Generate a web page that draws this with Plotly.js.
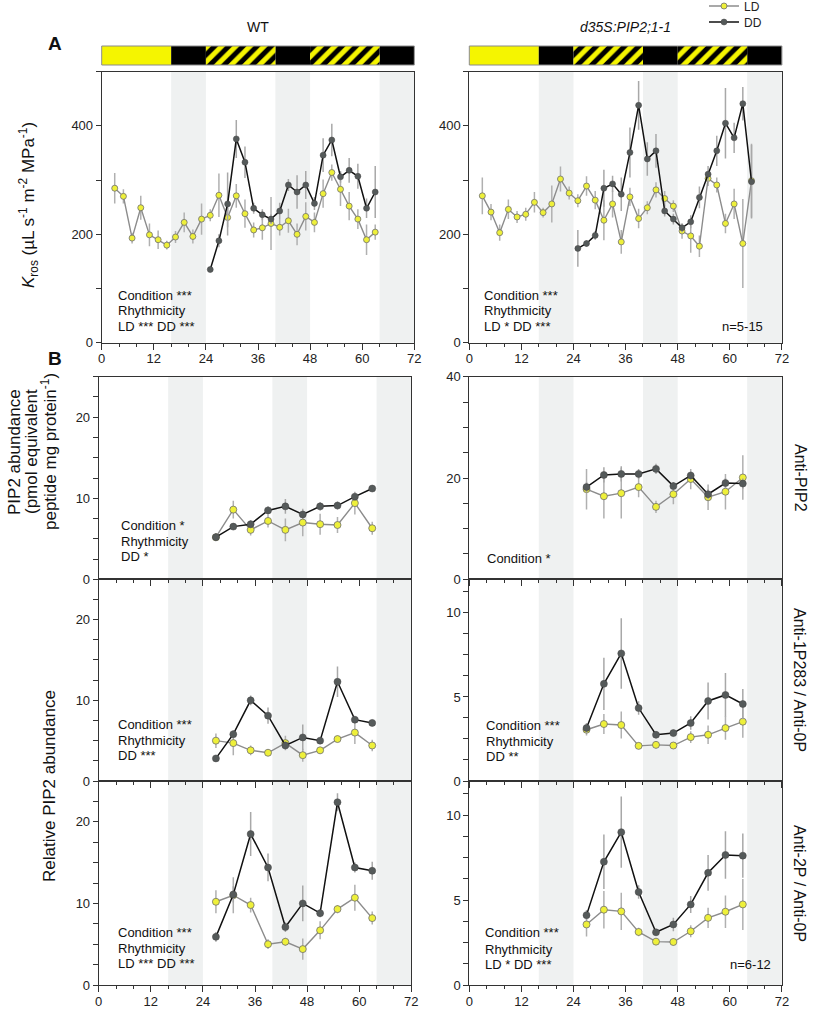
<!DOCTYPE html>
<html><head><meta charset="utf-8">
<script src="https://cdn.plot.ly/plotly-3.0.1.min.js"></script>
<style>html,body{margin:0;padding:0;background:#fff}#chart{width:816px;height:1009px}</style>
</head><body><div id="chart"></div>
<script>
// ---------------- DATA ----------------
// Panel A: root hydraulic conductivity (Kros)
const hWT_LD = [3,5,7,9,11,13,15,17,19,21,23,25,27,29,31,33,35,37,39,41,43,45,47,49,51,53,55,57,59,61,63];
const kWT_LD = [285,270,193,249,199,190,180,195,222,196,228,235,272,231,271,238,208,212,220,213,225,200,233,222,275,314,283,252,228,190,204];
const kWT_LD_err = [28,13,10,22,21,17,8,11,18,13,29,11,40,18,22,26,14,22,49,15,22,20,26,18,26,15,31,26,18,28,14];
const hWT_DD = [25,27,29,31,33,35,37,39,41,43,45,47,49,51,53,55,57,59,61,63];
const kWT_DD = [135,188,256,376,333,248,236,228,243,291,278,291,257,346,374,306,318,307,248,278];
const kWT_DD_err = [5,12,58,35,29,10,10,9,15,11,31,26,12,31,30,11,23,23,18,48];

const hOX_LD = [3,5,7,9,11,13,15,17,19,21,23,25,27,29,31,33,35,37,39,41,43,45,47,49,51,53,55,57,59,61,63,65];
const kOX_LD = [271,241,203,246,232,237,259,240,256,302,276,262,289,263,226,256,186,269,229,249,282,266,252,206,197,178,303,291,220,256,183,299];
const kOX_LD_err = [34,15,15,18,11,12,19,9,34,23,12,12,18,17,37,25,22,17,18,12,14,14,11,14,31,20,14,14,18,28,82,68];
const hOX_DD = [25,27,29,31,33,35,37,39,41,43,45,47,49,51,53,55,57,59,61,63,65];
const kOX_DD = [174,183,198,285,293,274,351,438,339,354,243,228,212,223,268,311,354,405,378,441,297];
const kOX_DD_err = [34,6,8,34,15,31,46,45,31,31,10,10,8,12,20,15,28,65,28,31,68];

// Panel B: PIP2 abundance
const hB = [27,31,35,39,43,47,51,55,59,63];
const abWT_LD = [5.2,8.6,6.1,7.2,6.1,7.0,6.8,6.7,9.4,6.3];
const abWT_LD_err = [0.5,1.1,0.7,0.8,1.4,1.7,1.3,1.0,1.4,0.8];
const abWT_DD = [5.2,6.5,6.8,8.5,9.0,8.0,9.0,9.1,10.2,11.2];
const abWT_DD_err = [0.3,0.4,0.5,0.5,0.9,0.5,0.5,0.5,0.4,0.3];
const abOX_LD = [17.8,16.4,17.0,18.2,14.3,16.8,19.8,16.2,17.3,20.1];
const abOX_LD_err = [4.0,4.4,5.0,2.0,1.2,2.0,2.0,2.5,3.5,4.4];
const abOX_DD = [18.2,20.6,20.8,20.8,21.8,18.4,20.5,16.8,19.0,18.9];
const abOX_DD_err = [1.0,1.5,1.5,1.0,1.0,0.8,0.8,1.0,1.0,1.0];

const p1WT_LD = [5.0,4.7,3.8,3.5,4.7,3.2,3.8,5.2,6.0,4.4];
const p1WT_LD_err = [0.9,1.5,0.6,0.4,0.9,0.8,0.4,0.4,1.4,0.7];
const p1WT_DD = [2.8,5.8,10.0,8.1,4.4,5.4,5.0,12.3,7.6,7.2];
const p1WT_DD_err = [0.3,0.5,0.6,1.0,0.5,1.6,0.4,1.9,0.4,0.4];
const p1OX_LD = [3.05,3.39,3.33,2.09,2.15,2.11,2.61,2.75,3.15,3.53];
const p1OX_LD_err = [0.35,0.6,0.8,0.2,0.2,0.2,0.35,0.55,0.7,0.95];
const p1OX_DD = [3.15,5.78,7.59,4.34,2.75,2.85,3.45,4.76,5.12,4.58];
const p1OX_DD_err = [0.3,1.55,2.1,0.4,0.2,0.2,0.4,1.1,1.3,0.9];

const p2WT_LD = [10.2,11.0,9.8,5.0,5.3,4.4,6.7,9.3,10.7,8.2];
const p2WT_LD_err = [1.4,2.2,0.9,0.6,0.5,1.3,1.1,0.5,1.6,0.8];
const p2WT_DD = [5.9,11.1,18.5,14.4,7.1,10.0,8.8,22.4,14.4,14.0];
const p2WT_DD_err = [0.6,1.0,2.7,1.7,0.6,2.2,0.5,1.1,0.6,1.1];
const p2OX_LD = [3.56,4.43,4.33,3.12,2.55,2.53,3.16,3.95,4.31,4.74];
const p2OX_LD_err = [0.7,1.1,1.1,0.25,0.2,0.2,0.35,0.6,0.95,1.5];
const p2OX_DD = [4.11,7.25,8.99,5.47,3.10,3.56,4.74,6.60,7.65,7.61];
const p2OX_DD_err = [0.3,1.6,2.1,0.4,0.2,0.4,0.5,1.05,1.4,1.3];

// light regime and subjective nights
const lightStart = [0,16,24,40,48,64];
const lightEnd   = [16,24,40,48,64,72];
const lightType  = ['light','dark','subjective','dark','subjective','dark'];
const nightStart = [16,40,64];
const nightEnd   = [24,48,72];

// tick labels (labelled ticks) and unlabelled tick spacing
const yTicksA = [0,200,400],  yTextA = ['0','200','400'],  yMinorA = 100;
const yTicksB25 = [0,10,20],  yTextB25 = ['0','10','20'],  yMinorB25 = 2.5;
const yTicksB40 = [0,20,40],  yTextB40 = ['0','20','40'],  yMinorB40 = 5;
const yTicksB12 = [0,5,10],   yTextB12 = ['0','5','10'],   yMinorB12 = 1.25;

const statsA_WT = ['Condition ***','Rhythmicity','LD *** DD ***'];
const statsA_OX = ['Condition ***','Rhythmicity','LD * DD ***'];
const stats1_WT = ['Condition *','Rhythmicity','DD *'];
const stats1_OX = ['Condition *'];
const stats2_WT = ['Condition ***','Rhythmicity','DD ***'];
const stats2_OX = ['Condition ***','Rhythmicity','DD **'];
const stats3_WT = ['Condition ***','Rhythmicity','LD *** DD ***'];
const stats3_OX = ['Condition ***','Rhythmicity','LD * DD ***'];

// ---------------- LAYOUT HELPERS ----------------
const W = 816, H = 1009;
const FONT = 'Liberation Sans, Arial, Helvetica, sans-serif';
const fx = v => v / W;
const fy = v => 1 - v / H;
const AX = '#333333';

function xAxis(x0, x1, anchor, labels){
  return {domain:[fx(x0), fx(x1)], anchor:anchor, range:[0,72], tickmode:'linear', tick0:0, dtick:12,
    showticklabels:labels, ticks:'outside', ticklen:6, tickwidth:1, tickcolor:AX, ticklabelstandoff:-2,
    minor:{tick0:0, dtick:4, ticks:'outside', ticklen:3, tickwidth:1, tickcolor:AX, showgrid:false},
    showline:true, linecolor:AX, linewidth:1, mirror:true, showgrid:false, zeroline:false,
    tickfont:{family:FONT, size:13, color:'#222'}, fixedrange:true, automargin:false};
}
function yAxis(y0, y1, anchor, range, tv, tt, minorStep){
  return {domain:[fy(y1), fy(y0)], anchor:anchor, range:range, tickmode:'array', tickvals:tv, ticktext:tt,
    ticks:'outside', ticklen:5, tickwidth:1, tickcolor:AX,
    minor:{tick0:0, dtick:minorStep, ticks:'outside', ticklen:5, tickwidth:1, tickcolor:AX, showgrid:false},
    showline:true, linecolor:AX, linewidth:1, mirror:true, showgrid:false, zeroline:false,
    tickfont:{family:FONT, size:13, color:'#222'}, fixedrange:true, automargin:false};
}

const XL_A = [101.7,414.3], XL_B = [98.7,411.3], XR = [469.3,781.9];
const YA = [71.7,342.7], Y1 = [376.7,579.3], Y2 = [579.3,781], Y3 = [781,985];

const legendBase = {x:fx(704), xanchor:'left', yanchor:'middle', bgcolor:'rgba(0,0,0,0)',
  font:{family:FONT, size:12, color:'#222'}, itemwidth:30, borderwidth:0};

const layout = {
  width:W, height:H, margin:{l:0,r:0,t:0,b:0, autoexpand:false},
  paper_bgcolor:'#fff', plot_bgcolor:'rgba(0,0,0,0)', barmode:'overlay',
  font:{family:FONT, size:13, color:'#222'},
  showlegend:true,
  legend:  Object.assign({y:fy(6)}, legendBase),
  legend2: Object.assign({y:fy(22)}, legendBase),
  xaxis:  xAxis(XL_A[0], XL_A[1], 'y', true),
  yaxis:  yAxis(YA[0], YA[1], 'x', [0,500], yTicksA, yTextA, yMinorA),
  xaxis2: xAxis(XR[0], XR[1], 'y2', true),
  yaxis2: yAxis(YA[0], YA[1], 'x2', [0,500], yTicksA, yTextA, yMinorA),
  xaxis3: xAxis(XL_B[0], XL_B[1], 'y3', false),
  yaxis3: yAxis(Y1[0], Y1[1], 'x3', [0,25], yTicksB25, yTextB25, yMinorB25),
  xaxis4: xAxis(XR[0], XR[1], 'y4', false),
  yaxis4: yAxis(Y1[0], Y1[1], 'x4', [0,40], yTicksB40, yTextB40, yMinorB40),
  xaxis5: xAxis(XL_B[0], XL_B[1], 'y5', false),
  yaxis5: yAxis(Y2[0], Y2[1], 'x5', [0,25], yTicksB25, yTextB25, yMinorB25),
  xaxis6: xAxis(XR[0], XR[1], 'y6', false),
  yaxis6: yAxis(Y2[0], Y2[1], 'x6', [0,12], yTicksB12, yTextB12, yMinorB12),
  xaxis7: xAxis(XL_B[0], XL_B[1], 'y7', true),
  yaxis7: yAxis(Y3[0], Y3[1], 'x7', [0,25], yTicksB25, yTextB25, yMinorB25),
  xaxis8: xAxis(XR[0], XR[1], 'y8', true),
  yaxis8: yAxis(Y3[0], Y3[1], 'x8', [0,12], yTicksB12, yTextB12, yMinorB12),
  yaxis9:  {domain:[fy(65), fy(46)], anchor:'x',  range:[0,1], visible:false, fixedrange:true},
  yaxis10: {domain:[fy(65), fy(46)], anchor:'x2', range:[0,1], visible:false, fixedrange:true},
  shapes:[], annotations:[]
};

// subjective-night shading in every panel
for (let n = 1; n <= 8; n++){
  const xr = n === 1 ? 'x' : 'x' + n;
  const yr = (n === 1 ? 'y' : 'y' + n) + ' domain';
  nightStart.forEach((s, i) => layout.shapes.push({type:'rect', xref:xr, yref:yr, x0:s, x1:nightEnd[i], y0:0, y1:1,
    fillcolor:'#eff1f1', line:{width:0}, layer:'below'}));
}
// border around light-regime bars
['x','x2'].forEach((xr, i) => layout.shapes.push({type:'rect', xref:xr + ' domain', yref:(i===0?'y9':'y10') + ' domain',
  x0:0, x1:1, y0:0, y1:1, line:{color:'#8a8a8a', width:1}, fillcolor:'rgba(0,0,0,0)', layer:'above'}));

// ---------------- TRACES ----------------
const YEL = '#eef03a';
const BARYEL = '#f5f500';
function ld(x, y, e, xa, ya, size, legend){
  return {type:'scatter', mode:'lines+markers', name:'LD', x:x, y:y, xaxis:xa, yaxis:ya, showlegend:!!legend, legend:'legend',
    line:{color:'#8c8c8c', width:1.4},
    marker:{symbol:'circle', size:size, color:YEL, line:{color:'#6e6e6e', width:0.8}},
    error_y:{type:'data', array:e, visible:true, color:'#b0b0b0', thickness:1.5, width:0},
    hoverinfo:'x+y'};
}
function dd(x, y, e, xa, ya, size, legend){
  return {type:'scatter', mode:'lines+markers', name:'DD', x:x, y:y, xaxis:xa, yaxis:ya, showlegend:!!legend, legend:'legend2',
    line:{color:'#111111', width:1.5},
    marker:{symbol:'circle', size:size, color:'#555a5a', line:{color:'#444', width:0.5}},
    error_y:{type:'data', array:e, visible:true, color:'#a8a8a8', thickness:1.5, width:0},
    hoverinfo:'x+y'};
}
function lightBars(xa, ya){
  const out = [];
  const styles = {
    light: {color:BARYEL, line:{width:0}},
    dark: {color:'#000000', line:{width:0}},
    subjective: {color:BARYEL, line:{width:0},
      pattern:{shape:'/', fgcolor:'#000000', bgcolor:BARYEL, size:10, solidity:0.5, fillmode:'replace'}}
  };
  Object.keys(styles).forEach(type => {
    const idx = lightType.map((t, i) => t === type ? i : -1).filter(i => i >= 0);
    out.push({type:'bar', orientation:'h', xaxis:xa, yaxis:ya, showlegend:false, hoverinfo:'skip',
      y: idx.map(() => 0.5), x: idx.map(i => lightEnd[i] - lightStart[i]), base: idx.map(i => lightStart[i]),
      width:1, marker:styles[type]});
  });
  return out;
}

const data = [
  ld(hWT_LD, kWT_LD, kWT_LD_err, 'x', 'y', 6, true),
  dd(hWT_DD, kWT_DD, kWT_DD_err, 'x', 'y', 6, true),
  ld(hOX_LD, kOX_LD, kOX_LD_err, 'x2', 'y2', 6),
  dd(hOX_DD, kOX_DD, kOX_DD_err, 'x2', 'y2', 6),
  ld(hB, abWT_LD, abWT_LD_err, 'x3', 'y3', 7),
  dd(hB, abWT_DD, abWT_DD_err, 'x3', 'y3', 7),
  ld(hB, abOX_LD, abOX_LD_err, 'x4', 'y4', 7),
  dd(hB, abOX_DD, abOX_DD_err, 'x4', 'y4', 7),
  ld(hB, p1WT_LD, p1WT_LD_err, 'x5', 'y5', 7),
  dd(hB, p1WT_DD, p1WT_DD_err, 'x5', 'y5', 7),
  ld(hB, p1OX_LD, p1OX_LD_err, 'x6', 'y6', 7),
  dd(hB, p1OX_DD, p1OX_DD_err, 'x6', 'y6', 7),
  ld(hB, p2WT_LD, p2WT_LD_err, 'x7', 'y7', 7),
  dd(hB, p2WT_DD, p2WT_DD_err, 'x7', 'y7', 7),
  ld(hB, p2OX_LD, p2OX_LD_err, 'x8', 'y8', 7),
  dd(hB, p2OX_DD, p2OX_DD_err, 'x8', 'y8', 7)
].concat(lightBars('x', 'y9'), lightBars('x2', 'y10'));

// ---------------- TEXT ----------------
function ann(text, x, y, opts){
  layout.annotations.push(Object.assign({text:text, x:fx(x), y:fy(y), xref:'paper', yref:'paper',
    showarrow:false, xanchor:'left', yanchor:'middle', font:{family:FONT, size:13, color:'#111'}}, opts || {}));
}
function stats(lines, x, ys){ lines.forEach((t, i) => ann(t, x, ys[i])); }

stats(statsA_WT, 116, [295,311,326]);
stats(statsA_OX, 482, [295,311,326]);
ann('n=5-15', 765, 326, {xanchor:'right'});
stats(stats1_WT, 119, [525,541,556]);
stats(stats1_OX, 485, [558]);
stats(stats2_WT, 116, [724,740,755]);
stats(stats2_OX, 484, [725,741,756]);
stats(stats3_WT, 116, [932,948,963]);
stats(stats3_OX, 483, [932,949,964]);
ann('n=6-12', 773, 964, {xanchor:'right'});

ann('WT', 258, 27, {xanchor:'center', font:{family:FONT, size:14, color:'#111'}});
ann('<i>d35S:PIP2;1-1</i>', 625.6, 27, {xanchor:'center', font:{family:FONT, size:14, color:'#111'}});
ann('<b>A</b>', 55, 43, {xanchor:'center', font:{family:FONT, size:19, color:'#111'}});
ann('<b>B</b>', 55, 358, {xanchor:'center', font:{family:FONT, size:19, color:'#111'}});

const TF = {family:FONT, size:17, color:'#111'};
ann('<i>K</i><sub>ros</sub> (µL s<sup>-1</sup> m<sup>-2</sup> MPa<sup>-1</sup>)', 29, 205, {xanchor:'center', textangle:-90, font:TF});
ann('PIP2 abundance', 14, 452, {xanchor:'center', textangle:-90, font:TF});
ann('(pmol equivalent', 31, 452, {xanchor:'center', textangle:-90, font:TF});
ann('peptide mg protein<sup>-1</sup>)', 49, 452, {xanchor:'center', textangle:-90, font:TF});
ann('Relative PIP2 abundance', 49, 786, {xanchor:'center', textangle:-90, font:TF});

const RF = {family:FONT, size:16, color:'#111'};
ann('Anti-PIP2', 800, 478, {xanchor:'center', textangle:90, font:RF});
ann('Anti-1P283 / Anti-0P', 800, 680, {xanchor:'center', textangle:90, font:RF});
ann('Anti-2P / Anti-0P', 800, 883, {xanchor:'center', textangle:90, font:RF});

Plotly.newPlot('chart', data, layout, {staticPlot:true, displayModeBar:false});
</script>
</body></html>
